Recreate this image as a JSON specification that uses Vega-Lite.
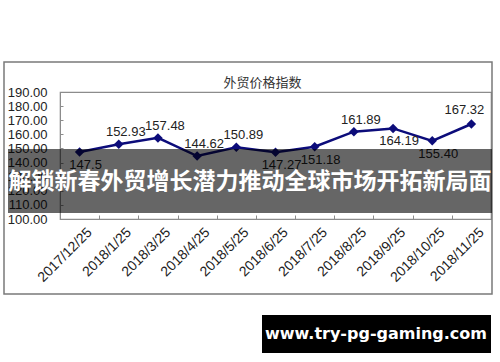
{
  "$schema": "https://vega.github.io/schema/vega-lite/v6.json",
  "width": 431,
  "height": 127,
  "autosize": "none",
  "padding": {"left": 60, "top": 92, "right": 9, "bottom": 143},
  "background": "white",
  "view": {"stroke": "#8c8c8c", "strokeWidth": 1.2},
  "title": {"text": "外贸价格指数", "font": "Noto Sans CJK SC", "fontSize": 13, "fontWeight": "normal", "color": "#333333", "frame": "group", "offset": -29, "dx": -13},
  "data": {"values": [
    {"date": "2017/12/25", "value": 147.5, "label": "147.5", "side": "below"},
    {"date": "2018/1/25", "value": 152.93, "label": "152.93", "side": "above"},
    {"date": "2018/3/25", "value": 157.48, "label": "157.48", "side": "above"},
    {"date": "2018/4/25", "value": 144.62, "label": "144.62", "side": "above"},
    {"date": "2018/5/25", "value": 150.89, "label": "150.89", "side": "above"},
    {"date": "2018/6/25", "value": 147.27, "label": "147.27", "side": "below"},
    {"date": "2018/7/25", "value": 151.18, "label": "151.18", "side": "below"},
    {"date": "2018/8/25", "value": 161.89, "label": "161.89", "side": "above"},
    {"date": "2018/9/25", "value": 164.19, "label": "164.19", "side": "below"},
    {"date": "2018/10/25", "value": 155.40, "label": "155.40", "side": "below"},
    {"date": "2018/11/25", "value": 167.32, "label": "167.32", "side": "above"}
  ]},
  "encoding": {
    "x": {"field": "date", "type": "ordinal", "sort": null,
      "scale": {"type": "band", "paddingInner": 0, "paddingOuter": 0},
      "axis": {"title": null, "labelAngle": -45, "tickBand": "extent", "tickSize": -4, "labelPadding": 10, "labelOffset": 5,
        "labelFont": "Liberation Sans", "labelFontSize": 14, "labelColor": "#222222",
        "domainColor": "#8c8c8c", "tickColor": "#8c8c8c", "grid": false}},
    "y": {"field": "value", "type": "quantitative",
      "scale": {"domain": [100, 190], "nice": false, "zero": false},
      "axis": {"title": null, "values": [100, 110, 120, 130, 140, 150, 160, 170, 180, 190], "format": ".2f",
        "tickSize": -3, "labelPadding": 16, "labelFont": "Liberation Sans", "labelFontSize": 13,
        "labelColor": "#222222", "domainColor": "#8c8c8c", "tickColor": "#8c8c8c", "grid": false}}
  },
  "layer": [
    {"data": {"values": [{"k": 1}]},
     "mark": {"type": "rect", "fill": null, "fillOpacity": 0, "stroke": "#7a7a7a", "strokeWidth": 1.5},
     "encoding": {"x": {"value": -56}, "x2": {"value": 432}, "y": {"value": -30}, "y2": {"value": 202}}},
    {"mark": {"type": "line", "color": "#0c0c7a", "strokeWidth": 2.5}},
    {"mark": {"type": "point", "shape": "diamond", "filled": true, "color": "#0c0c7a", "size": 90, "opacity": 1}},
    {"transform": [{"filter": "datum.side === 'above' && datum.date !== '2018/11/25'"}],
     "mark": {"type": "text", "font": "Liberation Sans", "fontSize": 13, "color": "#222222", "dx": 7, "dy": -12, "baseline": "middle"},
     "encoding": {"text": {"field": "label"}}},
    {"transform": [{"filter": "datum.date === '2018/11/25'"}],
     "mark": {"type": "text", "font": "Liberation Sans", "fontSize": 13, "color": "#222222", "dx": -7, "dy": -14, "baseline": "middle"},
     "encoding": {"text": {"field": "label"}}},
    {"transform": [{"filter": "datum.side === 'below'"}],
     "mark": {"type": "text", "font": "Liberation Sans", "fontSize": 13, "color": "#222222", "dx": 6, "dy": 13, "baseline": "middle"},
     "encoding": {"text": {"field": "label"}}},
    {"data": {"values": [{"k": 1}]},
     "mark": {"type": "rect", "color": "#000000", "opacity": 0.6},
     "encoding": {"x": {"value": -52}, "x2": {"value": 432}, "y": {"value": 57}, "y2": {"value": 121}}},
    {"data": {"values": [{"t": "解锁新春外贸增长潜力推动全球市场开拓新局面"}]},
     "mark": {"type": "text", "font": "Noto Sans CJK SC", "fontSize": 23, "fontWeight": "bold", "color": "#ffffff", "align": "center", "baseline": "middle"},
     "encoding": {"text": {"field": "t"}, "x": {"value": 190}, "y": {"value": 90}}},
    {"data": {"values": [{"k": 1}]},
     "mark": {"type": "rect", "color": "#000000", "opacity": 1},
     "encoding": {"x": {"value": 202}, "x2": {"value": 431}, "y": {"value": 223}, "y2": {"value": 261}}},
    {"data": {"values": [{"t": "www.try-pg-gaming.com"}]},
     "mark": {"type": "text", "font": "DejaVu Sans", "fontSize": 16, "fontWeight": "bold", "color": "#ffffff", "align": "center", "baseline": "middle"},
     "encoding": {"text": {"field": "t"}, "x": {"value": 316}, "y": {"value": 242}}}
  ]
}
